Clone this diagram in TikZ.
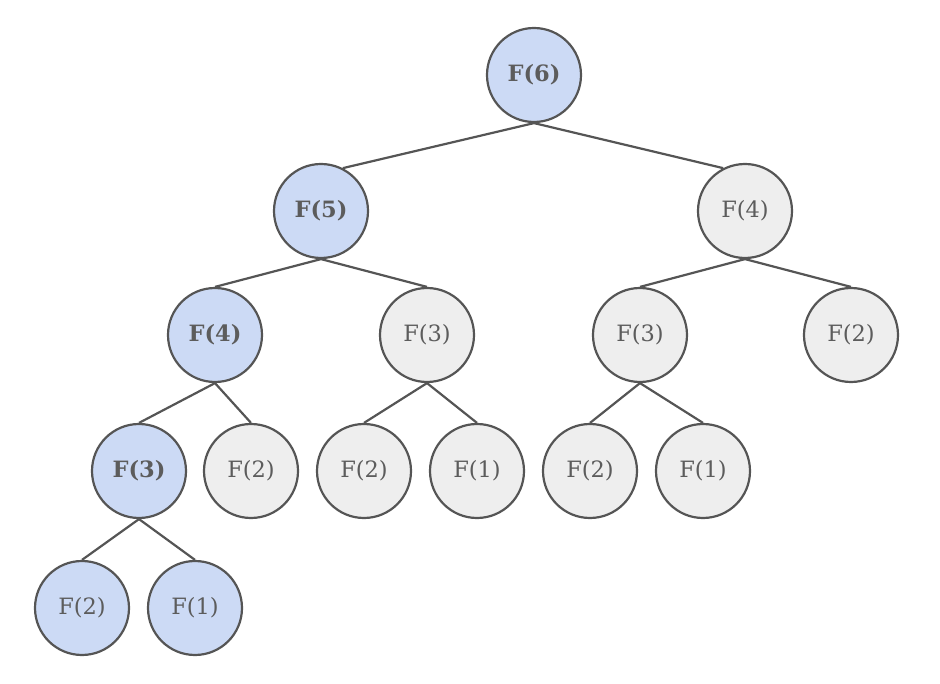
\documentclass[tikz,border=0pt]{standalone}
\usepackage{fontspec}
\setmainfont{DejaVu Serif}
\definecolor{edgegray}{HTML}{555555}
\definecolor{txtgray}{HTML}{5C5C5C}
\definecolor{bluefill}{HTML}{CCDAF5}
\definecolor{grayfill}{HTML}{EEEEEE}
\begin{document}
\begin{tikzpicture}[x=1pt,y=-1pt,
  fnode/.style={circle,draw=edgegray,line width=2.2pt,minimum size=94pt,inner sep=0pt,
    text=txtgray,font=\fontsize{22.5}{26}\selectfont},
  bluenode/.style={fnode,fill=bluefill},
  graynode/.style={fnode,fill=grayfill},
  boldtxt/.style={font=\fontsize{22.5}{26}\selectfont\bfseries},
  edge/.style={draw=edgegray,line width=2.2pt}]
\useasboundingbox (0,0) rectangle (940,684);
\node[bluenode,boldtxt] (n6) at (534,75) {F(6)};
\node[bluenode,boldtxt] (n5) at (321,211) {F(5)};
\node[graynode] (n4r) at (745,211) {F(4)};
\node[bluenode,boldtxt] (n4l) at (215,335) {F(4)};
\node[graynode] (n3m) at (427,335) {F(3)};
\node[graynode] (n3r) at (640,335) {F(3)};
\node[graynode] (n2r) at (851,335) {F(2)};
\node[bluenode,boldtxt] (n3l) at (139,471) {F(3)};
\node[graynode] (n2a) at (251,471) {F(2)};
\node[graynode] (n2b) at (364,471) {F(2)};
\node[graynode] (n1b) at (477,471) {F(1)};
\node[graynode] (n2c) at (590,471) {F(2)};
\node[graynode] (n1c) at (703,471) {F(1)};
\node[bluenode] (n2d) at (82,608) {F(2)};
\node[bluenode] (n1d) at (195,608) {F(1)};
\draw[edge] (n6.south) -- (n5.63);
\draw[edge] (n6.south) -- (n4r.117);
\draw[edge] (n5.south) -- (n4l.north);
\draw[edge] (n5.south) -- (n3m.north);
\draw[edge] (n4r.south) -- (n3r.north);
\draw[edge] (n4r.south) -- (n2r.north);
\draw[edge] (n4l.south) -- (n3l.north);
\draw[edge] (n4l.south) -- (n2a.north);
\draw[edge] (n3m.south) -- (n2b.north);
\draw[edge] (n3m.south) -- (n1b.north);
\draw[edge] (n3r.south) -- (n2c.north);
\draw[edge] (n3r.south) -- (n1c.north);
\draw[edge] (n3l.south) -- (n2d.north);
\draw[edge] (n3l.south) -- (n1d.north);
\end{tikzpicture}
\end{document}
